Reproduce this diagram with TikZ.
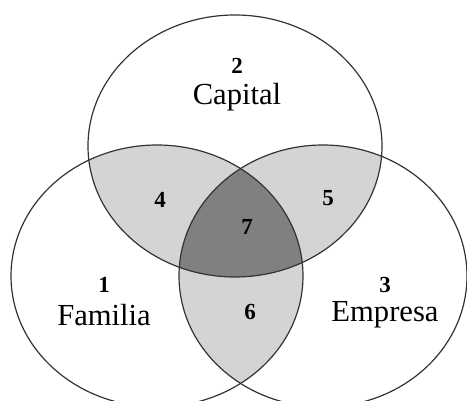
\documentclass[tikz,border=0pt]{standalone}
\usepackage{fontspec}
\setmainfont{Liberation Serif}
\begin{document}
\begin{tikzpicture}[x=0.5pt, y=-0.5pt, line join=round, line cap=round,
  set/.style={draw=black!80, line width=0.6pt},
  label/.style={font=\fontsize{15.3}{17}\selectfont},
  num/.style={font=\fontsize{11.5}{12}\selectfont\bfseries}]
  \useasboundingbox (0,0) rectangle (467,401);

  % Các tập hợp
  \def\familia{(157,276) ellipse [x radius=146, y radius=131]}
  \def\capital{(235,146) ellipse [x radius=147, y radius=131]}
  \def\empresa{(323,276) ellipse [x radius=144, y radius=131]}

  % Giao của từng cặp
  \begin{scope}
    \clip \capital;
    \fill[black!17] \familia;
    \fill[black!17] \empresa;
  \end{scope}
  \begin{scope}
    \clip \familia;
    \fill[black!17] \empresa;
  \end{scope}

  % Giao của cả ba
  \begin{scope}
    \clip \capital;
    \clip \familia;
    \fill[black!50] \empresa;
  \end{scope}

  \draw[set] \familia;
  \draw[set] \capital;
  \draw[set] \empresa;

  % Nhãn
  \node[num] (n2) at (237,66) {2};
  \node[label] (capital) at (237,97) {Capital};
  \node[num] (n1) at (104,285) {1};
  \node[label] (familia) at (104,315) {Familia};
  \node[num] (n3) at (385,285) {3};
  \node[label] (empresa) at (385,315) {Empresa};
  \node[num] (n4) at (160,200) {4};
  \node[num] (n5) at (328,198) {5};
  \node[num] (n6) at (250,312) {6};
  \node[num] (n7) at (247,227) {7};
\end{tikzpicture}
\end{document}
